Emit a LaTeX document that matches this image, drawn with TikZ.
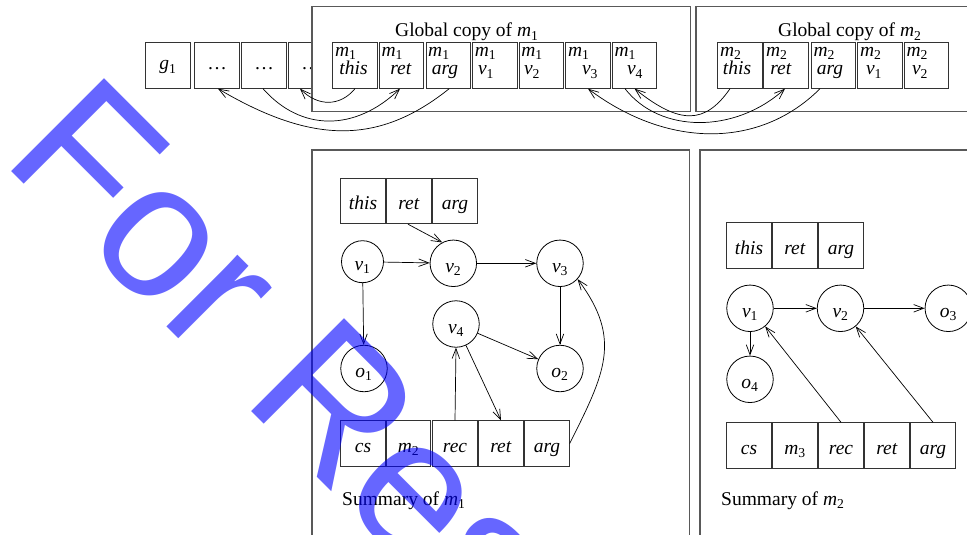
\documentclass[tikz,border=0pt]{standalone}
\usepackage{fontspec}
\setmainfont{Liberation Serif}
\newfontfamily\wmfont{Liberation Sans}
\usetikzlibrary{arrows.meta}
\newcommand\vsub[2]{\textit{#1}\textsubscript{#2}}
% name, x, m-subscript, label, label x
\newcommand\gcopy[5]{%
  \node[box] (#1) at (#2,65.5) {};
  \node[mlbl] (#1m) at ([xshift=2.5pt,yshift=-4.5pt]#1.north west) {\vsub{m}{#3}};
  \node[lbl] (#1l) at (#5,75) {#4};
}
\begin{document}
\begin{tikzpicture}[x=1pt,y=-1pt,
  every node/.style={font=\fontsize{19.5}{22}\selectfont},
  box/.style={draw=black!80, line width=0.9pt, minimum width=44.5pt, minimum height=45.5pt,
    inner sep=0pt, fill=white, text height=17pt, text depth=0pt},
  topbox/.style={box, text height=9pt},
  circ/.style={draw=black, circle, line width=0.8pt, minimum size=46.5pt, inner sep=0pt,
    text height=18pt, text depth=0pt},
  frame/.style={draw=black!65, line width=1.2pt, fill=white},
  arr/.style={line width=0.7pt, -{Straight Barb[length=10pt,width=7.5pt]}},
  lbl/.style={inner sep=0pt, anchor=base},
  mlbl/.style={inner sep=0pt, anchor=north west},
  wm/.style={inner sep=0pt, anchor=base west, rotate=-45, text=blue, text opacity=0.6,
    font=\wmfont\fontsize{191}{191}\selectfont}
]
\clip (0,0) rectangle (967,535);
\fill[white] (0,0) rectangle (967,535);

% ---------- top row: globals ----------
\node[topbox] (g1) at (168,65.5) {\vsub{g}{1}};
\node[topbox] (d1) at (217,65.5) {\ldots};
\node[topbox] (d2) at (264,65.5) {\ldots};
\node[topbox] (d3) at (311,65.5) {\ldots};

% global copy of m1
\draw[frame] (312,6.5) rectangle (690.5,111.7);
\node[lbl, anchor=base west] (gc1) at (395,37) {Global copy of \vsub{m}{1}};
\gcopy{athis}{355}{1}{\textit{this}}{353.5}
\gcopy{aret}{401.6}{1}{\textit{ret}}{401}
\gcopy{aarg}{448.2}{1}{\textit{arg}}{445}
\gcopy{av1}{494.8}{1}{\vsub{v}{1}}{486}
\gcopy{av2}{541.4}{1}{\vsub{v}{2}}{532}
\gcopy{av3}{588}{1}{\vsub{v}{3}}{590}
\gcopy{av4}{634.6}{1}{\vsub{v}{4}}{635}

% global copy of m2
\draw[frame] (696,6.5) rectangle (980,111.7);
\node[lbl, anchor=base west] (gc2) at (778,37) {Global copy of \vsub{m}{2}};
\gcopy{bthis}{740}{2}{\textit{this}}{737}
\gcopy{bret}{786}{2}{\textit{ret}}{781}
\gcopy{barg}{833.5}{2}{\textit{arg}}{830}
\gcopy{bv1}{880}{2}{\vsub{v}{1}}{874}
\gcopy{bv2}{926.5}{2}{\vsub{v}{2}}{920}

% top connectors
\draw[arr] (athis.south) .. controls +(-15,18) and +(18,18) .. ([xshift=-11pt]d3.south);
\draw[arr] ([xshift=-1pt]d2.south) .. controls +(38,43) and +(-45,43) .. ([xshift=-1.6pt]aret.south);
\draw[arr] ([xshift=1pt]aarg.south) .. controls +(-70,56) and +(95,56) .. ([xshift=1pt]d1.south);
\draw[arr] ([xshift=-10pt]bthis.south) .. controls +(-25,36) and +(45,36) .. (av4.south);
\draw[arr] ([xshift=-9.6pt]av4.south) .. controls +(35,45) and +(-50,45) .. ([xshift=-1pt]bret.south);
\draw[arr] ([xshift=-13.5pt]barg.south) .. controls +(-60,60) and +(80,60) .. (av3.south);

% ---------- summary of m1 ----------
\draw[frame] (312,150) rectangle (689.5,545);
\node[box] (sthis) at (363,201) {\textit{this}};
\node[box] (sret)  at (409,201) {\textit{ret}};
\node[box] (sarg)  at (455,201) {\textit{arg}};
\node[circ, minimum size=42pt] (sv1) at (362.5,261.7) {\vsub{v}{1}};
\node[circ] (sv2) at (453.3,263.3) {\vsub{v}{2}};
\node[circ] (sv3) at (560,263.3) {\vsub{v}{3}};
\node[circ] (sv4) at (456,324) {\vsub{v}{4}};
\node[circ] (so1) at (364,368.5) {\vsub{o}{1}};
\node[circ] (so2) at (560,368.5) {\vsub{o}{2}};
\node[box] (scs)  at (363,443.5) {\textit{cs}};
\node[box] (sm2)  at (408.5,443.5) {\vsub{m}{2}};
\node[box] (srec) at (455,443.5) {\textit{rec}};
\node[box] (sret2) at (501,443.5) {\textit{ret}};
\node[box] (sarg2) at (547,443.5) {\textit{arg}};
\node[lbl, anchor=base west] (sum1) at (342,505) {Summary of \vsub{m}{1}};

\draw[arr] ([xshift=-1pt]sret.south) -- (sv2.118);
\draw[arr] (sv1) -- (sv2);
\draw[arr] (sv2) -- (sv3);
\draw[arr] (sv1) -- (so1);
\draw[arr] (sv3) -- (so2);
\draw[arr] (sv4) -- (so2);
\draw[arr] (sv4) -- (sret2.north);
\draw[arr] (srec.north) -- (sv4.south);
\draw[arr] (sarg2.east) .. controls +(35,-70) and +(45,60) .. (sv3.-42);

% ---------- summary of m2 ----------
\draw[frame] (700,150) rectangle (980,545);
\node[box] (tthis) at (749,245.5) {\textit{this}};
\node[box] (tret)  at (795,245.5) {\textit{ret}};
\node[box] (targ)  at (841,245.5) {\textit{arg}};
\node[circ] (tv1) at (750,308.3) {\vsub{v}{1}};
\node[circ] (tv2) at (840.5,308.3) {\vsub{v}{2}};
\node[circ] (to3) at (948.3,308.3) {\vsub{o}{3}};
\node[circ] (to4) at (750,379.3) {\vsub{o}{4}};
\node[box] (tcs)  at (749,445.5) {\textit{cs}};
\node[box] (tm3)  at (795,445.5) {\vsub{m}{3}};
\node[box] (trec) at (841,445.5) {\textit{rec}};
\node[box] (tret2) at (887,445.5) {\textit{ret}};
\node[box] (targ2) at (933,445.5) {\textit{arg}};
\node[lbl, anchor=base west] (sum2) at (721,505) {Summary of \vsub{m}{2}};

\draw[arr] (tv1) -- (tv2);
\draw[arr] (tv2) -- (to3);
\draw[arr] (tv1) -- (to4);
\draw[arr] (trec.north) -- (tv1.-50);
\draw[arr] (targ2.north) -- (tv2.-50);

% ---------- watermark ----------
\node[wm] (wmark) at (0,160) {For Research};
\end{tikzpicture}
\end{document}
